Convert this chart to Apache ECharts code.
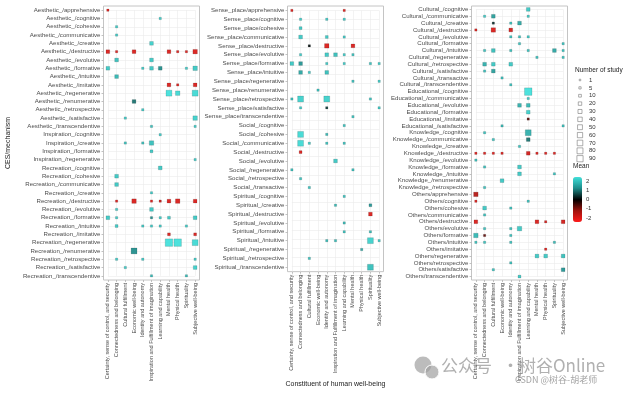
<!DOCTYPE html>
<html><head><meta charset="utf-8">
<script src="https://cdn.jsdelivr.net/npm/echarts@6/dist/echarts.min.js"></script>
<style>html,body{margin:0;padding:0;background:#fff}#c{width:624px;height:393px}</style>
</head><body><div id="c"></div>
<script>
// x categories: constituents of human well-being
const wellbeing = ["Certainty, sense of control, and security","Connectedness and belonging","Cultural fulfillment","Economic well-being","Identity and autonomy","Inspiration and Fulfillment of imagination","Learning and capability","Mental health","Physical health","Spirituality","Subjective well-being"];

// Panel 1 rows (CES/mechanism)
const rows1 = ["Aesthetic_/apprehensive","Aesthetic_/cognitive","Aesthetic_/cohesive","Aesthetic_/communicative","Aesthetic_/creative","Aesthetic_/destructive","Aesthetic_/evolutive","Aesthetic_/formative","Aesthetic_/intuitive","Aesthetic_/imitative","Aesthetic_/regenerative","Aesthetic_/renumerative","Aesthetic_/retrospective","Aesthetic_/satisfactive","Aesthetic_/transcendentive","Inspiration_/cognitive","Inspiration_/creative","Inspiration_/formative","Inspiration_/regenerative","Recreation_/cognitive","Recreation_/cohesive","Recreation_/communicative","Recreation_/creative","Recreation_/destructive","Recreation_/evolutive","Recreation_/formative","Recreation_/intuitive","Recreation_/imitative","Recreation_/regenerative","Recreation_/renumerative","Recreation_/retrospective","Recreation_/satisfactive","Recreation_/transcendentive"];
// [row, column, number of study, mean]
const pts1 = [
[0,0,6,-1.6],[1,6,6,1.7],[2,1,6,1.7],[3,1,6,1.7],[4,5,25,1.8],
[5,0,25,-1.6],[5,1,6,-1.6],[5,3,25,-1.6],[5,7,25,-1.6],[5,8,6,-1.6],[5,9,6,-1.6],[5,10,40,-1.6],
[6,1,25,1.6],[6,5,25,1.7],
[7,0,25,1.7],[7,4,6,1.7],[7,5,25,1.7],[7,6,25,1.0],[7,9,6,1.7],[7,10,40,1.7],
[8,1,25,1.5],
[9,7,25,-1.6],[9,8,6,-1.6],[9,10,25,-1.6],
[10,7,80,2.0],[10,8,40,1.9],[10,10,80,1.9],
[11,3,25,0.8],[12,4,6,1.7],[13,2,6,1.7],[13,10,40,1.8],[14,5,6,1.6],[14,10,6,1.7],
[15,6,6,1.7],[16,2,6,1.6],[16,4,6,1.6],[16,5,40,1.6],[17,5,12,1.7],[18,10,6,1.7],
[19,6,25,1.7],[20,1,25,1.7],[21,1,25,1.7],[22,5,6,1.7],
[23,1,6,-1.6],[23,3,40,-1.6],[23,5,6,-1.6],[23,6,6,-1.4],[23,7,25,-1.6],[23,8,40,-1.6],[23,10,25,-1.6],
[24,1,6,1.7],[24,5,25,1.7],
[25,0,25,1.7],[25,1,6,1.7],[25,5,6,1.0],[25,6,6,1.7],[25,7,12,1.7],[25,10,25,1.7],
[26,1,12,1.7],[26,4,6,1.7],[26,5,6,1.7],[26,6,6,1.7],[26,9,6,1.7],
[27,7,12,-1.6],[27,10,12,-1.6],
[28,7,140,2.0],[28,8,140,2.0],[28,10,80,1.9],
[29,3,80,1.0],
[30,1,6,1.7],[30,4,6,1.7],[30,10,6,1.7],
[31,2,6,1.7],[31,10,25,1.8],
[32,5,6,1.5],[32,9,6,1.5]
];

// Panel 2 rows
const rows2 = ["Sense_place/apprehensive","Sense_place/cognitive","Sense_place/cohesive","Sense_place/communicative","Sense_place/destructive","Sense_place/evolutive","Sense_place/formative","Sense_place/intuitive","Sense_place/regenerative","Sense_place/renumerative","Sense_place/retrospective","Sense_place/satisfactive","Sense_place/transcendentive","Social_/cognitive","Social_/cohesive","Social_/communicative","Social_/destructive","Social_/evolutive","Social_/regenerative","Social_/retrospective","Social_/transactive","Spiritual_/cognitive","Spiritual_/creative","Spiritual_/destructive","Spiritual_/evolutive","Spiritual_/formative","Spiritual_/intuitive","Spiritual_/regenerative","Spiritual_/retrospective","Spiritual_/transcendentive"];
const pts2 = [
[0,0,6,-1.6],[0,6,6,-1.6],
[1,1,6,1.7],[1,4,6,1.7],[1,6,6,1.7],
[2,1,12,1.7],
[3,1,25,1.7],[3,4,12,1.7],[3,6,6,1.7],
[4,2,6,0.1],[4,4,40,-1.6],[4,7,25,-1.6],
[5,1,6,1.7],[5,4,25,1.7],[5,5,25,1.6],[5,6,6,1.7],[5,7,6,1.6],
[6,0,25,1.7],[6,1,25,1.1],[6,4,6,1.7],[6,6,6,1.7],[6,9,6,1.6],[6,10,6,1.7],
[7,1,25,1.3],[7,2,6,1.7],[7,4,25,1.6],
[8,7,6,1.6],[8,10,6,1.7],
[9,3,6,1.6],
[10,0,6,1.6],[10,1,80,1.8],[10,4,80,1.8],[10,9,6,1.6],
[11,1,6,1.7],[11,4,6,0.4],[11,10,6,1.7],
[12,7,6,1.6],
[13,6,6,1.6],
[14,1,80,1.9],[14,4,6,1.5],
[15,1,80,1.9],[15,2,6,1.7],[15,4,6,1.6],[15,6,6,1.6],
[16,1,12,-1.6],
[17,5,25,1.7],
[18,0,6,1.6],[18,7,6,1.6],
[19,1,6,1.6],
[20,2,6,1.6],
[21,6,6,1.6],
[22,5,6,1.5],[22,9,12,1.1],
[23,9,25,-1.6],
[24,6,6,1.5],
[25,6,6,1.6],[25,9,6,1.5],
[26,4,6,1.5],[26,5,6,1.5],[26,9,80,1.8],[26,10,6,1.7],
[27,8,6,1.3],
[28,2,6,1.6],
[29,9,80,1.6]
];

// Panel 3 rows
const rows3 = ["Cultural_/cognitive","Cultural_/communicative","Cultural_/creative","Cultural_/destructive","Cultural_/evolutive","Cultural_/formative","Cultural_/intuitive","Cultural_/regenerative","Cultural_/retrospective","Cultural_/satisfactive","Cultural_/transactive","Cultural_/transcendentive","Educational_/cognitive","Educational_/communicative","Educational_/evolutive","Educational_/formative","Educational_/imitative","Educational_/satisfactive","Knowledge_/cognitive","Knowledge_/communicative","Knowledge_/creative","Knowledge_/destructive","Knowledge_/evolutive","Knowledge_/formative","Knowledge_/intuitive","Knowledge_/renumerative","Knowledge_/retrospective","Others/apprehensive","Others/cognitive","Others/cohesive","Others/communicative","Others/destructive","Others/evolutive","Others/formative","Others/intuitive","Others/imitative","Others/regenerative","Others/retrospective","Others/satisfactive","Others/transcendentive"];
const pts3 = [
[0,6,25,1.7],
[1,1,6,1.7],[1,2,25,1.2],[1,6,6,1.7],
[2,2,6,0.3],[2,4,6,1.6],[2,5,25,1.3],
[3,0,6,-1.6],[3,2,40,-1.6],[3,4,25,-1.5],
[4,4,6,1.6],[4,5,6,1.6],[4,6,6,1.7],
[5,5,6,1.6],[5,10,6,1.6],
[6,1,6,1.6],[6,2,25,1.6],[6,4,6,1.6],[6,6,6,1.6],[6,9,25,1.3],[6,10,6,1.6],
[7,7,6,1.6],[7,10,6,1.6],
[8,1,25,1.4],[8,2,25,1.7],[8,4,25,1.7],
[9,1,6,1.6],[9,2,25,1.2],
[10,3,6,1.6],
[11,4,6,1.6],
[12,6,140,2.0],
[13,6,6,1.7],
[14,5,25,1.4],[14,6,25,1.5],
[15,6,25,1.8],
[16,6,6,-0.6],
[17,3,6,1.5],[17,10,6,1.6],
[18,1,6,1.6],[18,6,80,1.4],
[19,2,6,1.6],[19,6,25,0.8],
[20,5,6,1.6],
[21,0,6,-1.6],[21,1,6,-1.6],[21,2,6,-1.6],[21,3,6,-1.6],[21,6,25,-1.5],[21,7,6,-1.6],[21,8,6,-1.6],[21,9,6,-1.6],
[22,0,6,1.6],
[23,1,6,1.6],[23,5,25,1.7],
[24,5,25,1.7],[24,9,6,1.6],
[25,3,25,1.7],
[26,1,6,1.6],
[27,0,40,-1.2],
[28,0,6,-1.6],[28,6,6,1.6],
[29,1,25,1.7],[29,4,6,1.6],
[30,1,6,1.6],
[31,0,25,-1.6],[31,7,25,-1.6],[31,8,6,-1.5],[31,10,25,-1.5],
[32,1,6,1.6],[32,4,6,1.6],[32,5,40,1.7],
[33,0,40,1.5],[33,1,6,-0.6],[33,4,6,1.6],
[34,0,6,1.6],[34,1,6,1.6],[34,4,6,1.6],[34,9,6,1.5],
[35,8,6,-1.6],
[36,7,25,1.7],[36,8,25,1.7],[36,10,25,1.6],
[37,4,6,1.6],
[38,2,6,1.6],[38,10,25,1.1],
[39,5,12,1.7]
];

// legend breaks
const sizeBreaks = [1,5,10,20,30,40,50,60,70,80,90];
const meanMin = -2, meanMax = 2;
const meanColors = ['#FF1A1A','#A0140E','#000000','#1D8C8A','#3FE0DA'];

const FONT = "'Liberation Sans', Arial, sans-serif";
const CJK = "'Noto Sans CJK SC', sans-serif";
const sizeFn = v => 1 + 0.55 * Math.sqrt(v[2]);

const panels = [
  {left:103.5, right:199.5, rows:rows1, pts:pts1},
  {left:287.5, right:383.5, rows:rows2, pts:pts2},
  {left:471.5, right:567.5, rows:rows3, pts:pts3}
];
const TOP = 6, BOTTOM = 280;
const grid = [], xAxis = [], yAxis = [], series = [];

panels.forEach((p, i) => {
  const w = p.right - p.left, h = BOTTOM - TOP;
  const cw = w / wellbeing.length, ch = h / p.rows.length;
  grid.push({left:p.left, top:TOP, width:w, height:h, show:true, borderColor:'#C4C4C4', borderWidth:1, backgroundColor:'transparent'});
  grid.push({left:p.left + cw/2, top:TOP + ch/2, width:w - cw, height:h - ch, show:false});
  const g = i * 2;
  const xa = {gridIndex:g, type:'category', data:wellbeing, boundaryGap:true,
    axisLine:{show:false},
    axisTick:{show:true, alignWithLabel:true, interval:0, length:2, lineStyle:{color:'#B3B3B3', width:0.8}},
    axisLabel:{rotate:90, fontSize:5.5, color:'#4D4D4D', margin:3, interval:0, fontFamily:FONT},
    splitLine:{show:false}};
  if (i === 1) {
    xa.name = 'Constituent of human well-being';
    xa.nameLocation = 'middle';
    xa.nameGap = 104;
    xa.nameTextStyle = {fontSize:7, color:'#222', fontFamily:FONT};
  }
  xAxis.push(xa);
  const ya = {gridIndex:g, type:'category', data:p.rows, inverse:true, boundaryGap:true,
    axisLine:{show:false},
    axisTick:{show:true, alignWithLabel:true, interval:0, length:2, lineStyle:{color:'#B3B3B3', width:0.8}},
    axisLabel:{fontSize:6.1, color:'#4D4D4D', margin:3, interval:0, fontFamily:FONT},
    splitLine:{show:false}};
  if (i === 0) {
    ya.name = 'CES/mechanism';
    ya.nameLocation = 'middle';
    ya.nameGap = 92;
    ya.nameTextStyle = {fontSize:7, color:'#222', fontFamily:FONT};
  }
  yAxis.push(ya);
  xAxis.push({gridIndex:g+1, type:'category', data:wellbeing, boundaryGap:false,
    axisLine:{show:false}, axisTick:{show:false}, axisLabel:{show:false},
    splitLine:{show:true, interval:0, lineStyle:{color:'#EBEBEB', width:0.6}}});
  yAxis.push({gridIndex:g+1, type:'category', data:p.rows, inverse:true, boundaryGap:false,
    axisLine:{show:false}, axisTick:{show:false}, axisLabel:{show:false},
    splitLine:{show:true, interval:0, lineStyle:{color:'#EBEBEB', width:0.6}}});
  series.push({type:'scatter', xAxisIndex:g, yAxisIndex:g, symbol:'rect', z:5,
    data:p.pts.map(q => [q[1], q[0], q[2], q[3]]),
    symbolSize:sizeFn,
    itemStyle:{borderColor:'rgba(0,0,0,0.35)', borderWidth:0.4, opacity:0.92},
    emphasis:{disabled:true}});
});

// size legend grid (index 6)
grid.push({left:576, top:80, width:8, height:78.7, show:false});
xAxis.push({gridIndex:6, type:'category', data:[''], show:false});
yAxis.push({gridIndex:6, type:'category', data:sizeBreaks.map(String), inverse:true, boundaryGap:false, position:'right',
  axisLine:{show:false}, axisTick:{show:false}, splitLine:{show:false},
  axisLabel:{fontSize:6, color:'#333', margin:5, interval:0, fontFamily:FONT}});
series.push({type:'scatter', xAxisIndex:6, yAxisIndex:6, symbol:'rect',
  data:sizeBreaks.map((n, i) => [0, i, n]),
  symbolSize:sizeFn,
  itemStyle:{color:'#ffffff', borderColor:'#6E6E6E', borderWidth:0.7},
  emphasis:{disabled:true}});

// colorbar tick labels (grid 7)
grid.push({left:573, top:181, width:9, height:37, show:false});
xAxis.push({gridIndex:7, type:'category', data:[''], show:false});
yAxis.push({gridIndex:7, type:'value', min:meanMin, max:meanMax, interval:1, position:'right',
  axisLine:{show:false}, axisTick:{show:false}, splitLine:{show:false},
  axisLabel:{fontSize:6, color:'#333', margin:4, fontFamily:FONT}});
series.push({type:'scatter', xAxisIndex:7, yAxisIndex:7, data:[], silent:true});

const option = {
  animation:false,
  backgroundColor:'#ffffff',
  grid, xAxis, yAxis, series,
  visualMap:{type:'continuous', min:meanMin, max:meanMax, dimension:3, seriesIndex:[0,1,2],
    left:573, top:177, itemWidth:9, itemHeight:45, padding:0, calculable:false, text:null,
    inRange:{color:meanColors}, show:true},
  graphic:[
    {type:'text', left:575, top:67, style:{text:'Number of study', fontSize:6.5, fill:'#222', fontFamily:FONT}},
    {type:'text', left:573, top:163, style:{text:'Mean', fontSize:6.5, fill:'#222', fontFamily:FONT}},
    {type:'circle', shape:{cx:423, cy:365, r:8.5}, style:{fill:'rgba(160,160,160,0.7)'}},
    {type:'circle', shape:{cx:432, cy:372, r:7}, style:{fill:'rgba(160,160,160,0.7)', stroke:'#fff', lineWidth:1}},
    {type:'text', left:441, top:357, style:{text:'公众号', fontSize:17, fill:'rgba(150,150,150,0.75)', fontFamily:CJK}},
    {type:'text', left:502, top:357, style:{text:'·', fontSize:17, fill:'rgba(150,150,150,0.75)', fontFamily:CJK}},
    {type:'text', left:519, top:357, style:{text:'树谷Online', fontSize:17, fill:'rgba(150,150,150,0.75)', fontFamily:CJK}},
    {type:'text', left:515, top:375, style:{text:'CSDN @树谷-胡老师', fontSize:9, fill:'rgba(140,140,140,0.8)', fontFamily:CJK}}
  ]
};
const chart = echarts.init(document.getElementById('c'), null, {renderer:'canvas'});
chart.setOption(option);
</script></body></html>
